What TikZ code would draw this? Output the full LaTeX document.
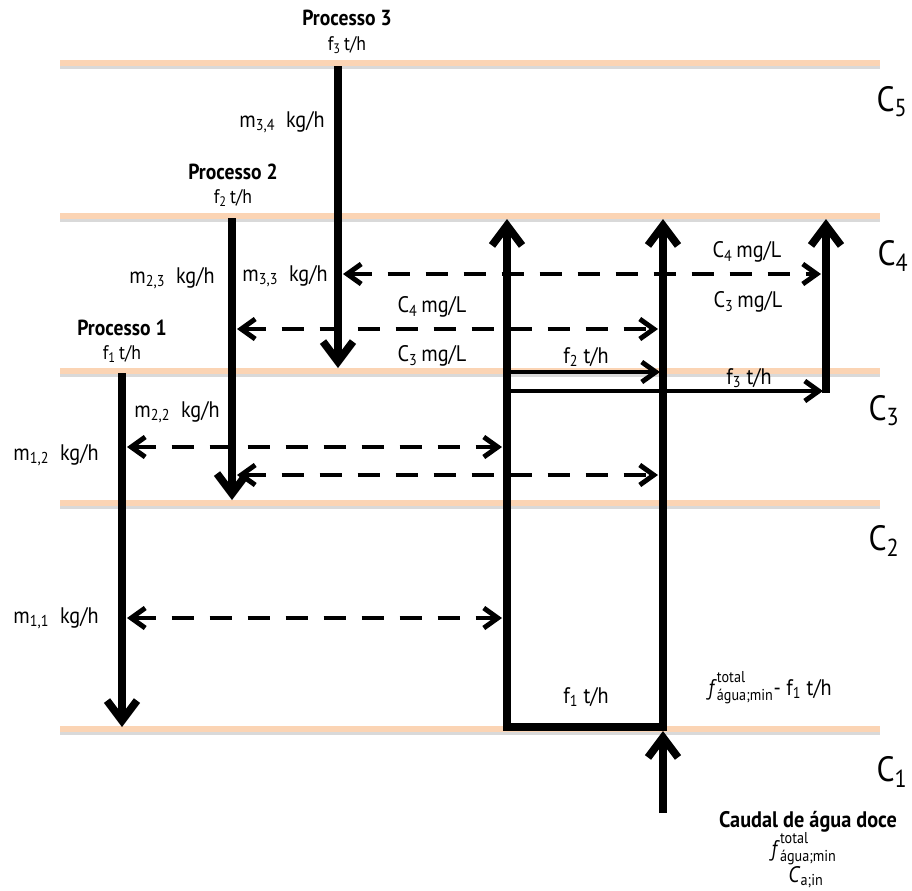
\documentclass[tikz,border=0pt]{standalone}
\usepackage{fontspec}
\setmainfont{PT Sans}[FakeStretch=0.9]
\usetikzlibrary{arrows.meta,positioning}
\definecolor{pessego}{RGB}{251,212,180}
\newcommand{\ftotal}{\textit{f}\rlap{\raisebox{0.3ex}{\textsuperscript{total}}}\raisebox{-0.2ex}{\textsubscript{água;min}}}
\tikzset{
  nivel/.style={line width=4pt,pessego},
  sombra/.style={line width=4pt,black!15},
  processo/.style={font=\bfseries\fontsize{15.5}{18}\selectfont,inner sep=0pt},
  rotulo/.style={font=\fontsize{16}{18}\selectfont,inner sep=0pt},
  vazao/.style={font=\fontsize{14}{16}\selectfont,inner sep=0pt},
  nivelrot/.style={font=\fontsize{25}{28}\selectfont,inner sep=0pt},
  fluxo/.style={line width=5.5pt,-{Straight Barb[length=5mm,width=7.5mm]}},
  corrente/.style={line width=3.5pt,-{Straight Barb[length=3.5mm,width=5mm]}},
  troca/.style={line width=3.5pt,dash pattern=on 5.5mm off 4mm,
    {Straight Barb[length=3.5mm,width=5mm]}-{Straight Barb[length=3.5mm,width=5mm]}}
}
\begin{document}
\begin{tikzpicture}[x=0.25mm,y=-0.25mm]
  \useasboundingbox (0,0) rectangle (912,890);
  % niveis de concentracao
  \foreach \n/\y in {5/63,4/216,3/371,2/503,1/729}{
    \coordinate (L\n) at (60,\y);
    \coordinate (R\n) at (880,\y);
    \draw[sombra] ([yshift=-2pt]L\n) -- ([yshift=-2pt]R\n);
    \draw[nivel] (L\n) -- (R\n);
  }
  \node[nivelrot] (c5) at (892,102) {C\textsubscript{5}};
  \node[nivelrot] (c4) at (893,256) {C\textsubscript{4}};
  \node[nivelrot] (c3) at (884,411) {C\textsubscript{3}};
  \node[nivelrot] (c2) at (884,541) {C\textsubscript{2}};
  \node[nivelrot] (c1) at (892,772) {C\textsubscript{1}};

  % processos
  \node[processo] (proc3) at (347,18) {Processo 3};
  \node[vazao] (f3p) at (347,45) {f\textsubscript{3}\,t/h};
  \node[processo] (proc2) at (233,172) {Processo 2};
  \node[vazao] (f2p) at (233,198) {f\textsubscript{2}\,t/h};
  \node[processo] (proc1) at (122,328) {Processo 1};
  \node[vazao] (f1p) at (122,354) {f\textsubscript{1}\,t/h};

  \coordinate (p3a) at (338,66);  \coordinate (p3b) at (338,368);
  \coordinate (p2a) at (232,218); \coordinate (p2b) at (232,500);
  \coordinate (p1a) at (122,373); \coordinate (p1b) at (122,727);
  \draw[fluxo] (p3a) -- (p3b);
  \draw[fluxo] (p2a) -- (p2b);
  \draw[fluxo] (p1a) -- (p1b);

  % agua doce
  \coordinate (w0) at (663,813); \coordinate (w1) at (663,731);
  \coordinate (w2) at (663,219); \coordinate (wb) at (667,727);
  \coordinate (wc) at (507,727); \coordinate (w3) at (507,219);
  \coordinate (v0) at (826,393); \coordinate (v1) at (826,219);
  \draw[fluxo] (w0) -- (w1);
  \draw[fluxo] (w1) -- (w2);
  \draw[fluxo,line join=miter] (wb) -- (wc) -- (w3);
  \draw[fluxo] (v0) -- (v1);

  \coordinate (f2a) at (507,372); \coordinate (f2b) at (660,372);
  \coordinate (f3a) at (507,391); \coordinate (f3b) at (823,391);
  \draw[corrente] (f2a) -- (f2b);
  \draw[corrente] (f3a) -- (f3b);

  % transferencias de massa
  \coordinate (d1a) at (343,274); \coordinate (d1b) at (821,274);
  \coordinate (d2a) at (237,329); \coordinate (d2b) at (658,329);
  \coordinate (d3a) at (127,447); \coordinate (d3b) at (502,447);
  \coordinate (d4a) at (237,475); \coordinate (d4b) at (658,475);
  \coordinate (d5a) at (127,618); \coordinate (d5b) at (502,618);
  \foreach \d in {1,...,5}
    \draw[troca] (d\d a) -- (d\d b);

  % rotulos
  \node[rotulo] (m34) at (282,122) {m\textsubscript{3,4}~~kg/h};
  \node[rotulo] (m23) at (172,278) {m\textsubscript{2,3}~~kg/h};
  \node[rotulo] (m33) at (285,276) {m\textsubscript{3,3}~~kg/h};
  \node[rotulo] (m22) at (177,412) {m\textsubscript{2,2}~~kg/h};
  \node[rotulo] (m12) at (56,455) {m\textsubscript{1,2}~~kg/h};
  \node[rotulo] (m11) at (56,618) {m\textsubscript{1,1}~~kg/h};
  \node[rotulo] (c4a) at (432,307) {C\textsubscript{4}\,mg/L};
  \node[rotulo] (c3a) at (432,356) {C\textsubscript{3}\,mg/L};
  \node[rotulo] (c4b) at (747,252) {C\textsubscript{4}\,mg/L};
  \node[rotulo] (c3b) at (748,302) {C\textsubscript{3}\,mg/L};
  \node[rotulo] (f2r) at (586,357) {f\textsubscript{2}~t/h};
  \node[rotulo] (f3r) at (749,378) {f\textsubscript{3}~t/h};
  \node[rotulo] (f1r) at (586,697) {f\textsubscript{1}~t/h};
  \node[rotulo] (resto) at (770,688) {\ftotal- f\textsubscript{1}~t/h};
  \node[processo,font=\bfseries\fontsize{16}{18}\selectfont] (caudal) at (808,822) {Caudal de água doce};
  \node[rotulo] (ftot) at (804,849) {\ftotal};
  \node[rotulo] (cain) at (806,877) {\textit{C}\textsubscript{a;in}};
\end{tikzpicture}
\end{document}
